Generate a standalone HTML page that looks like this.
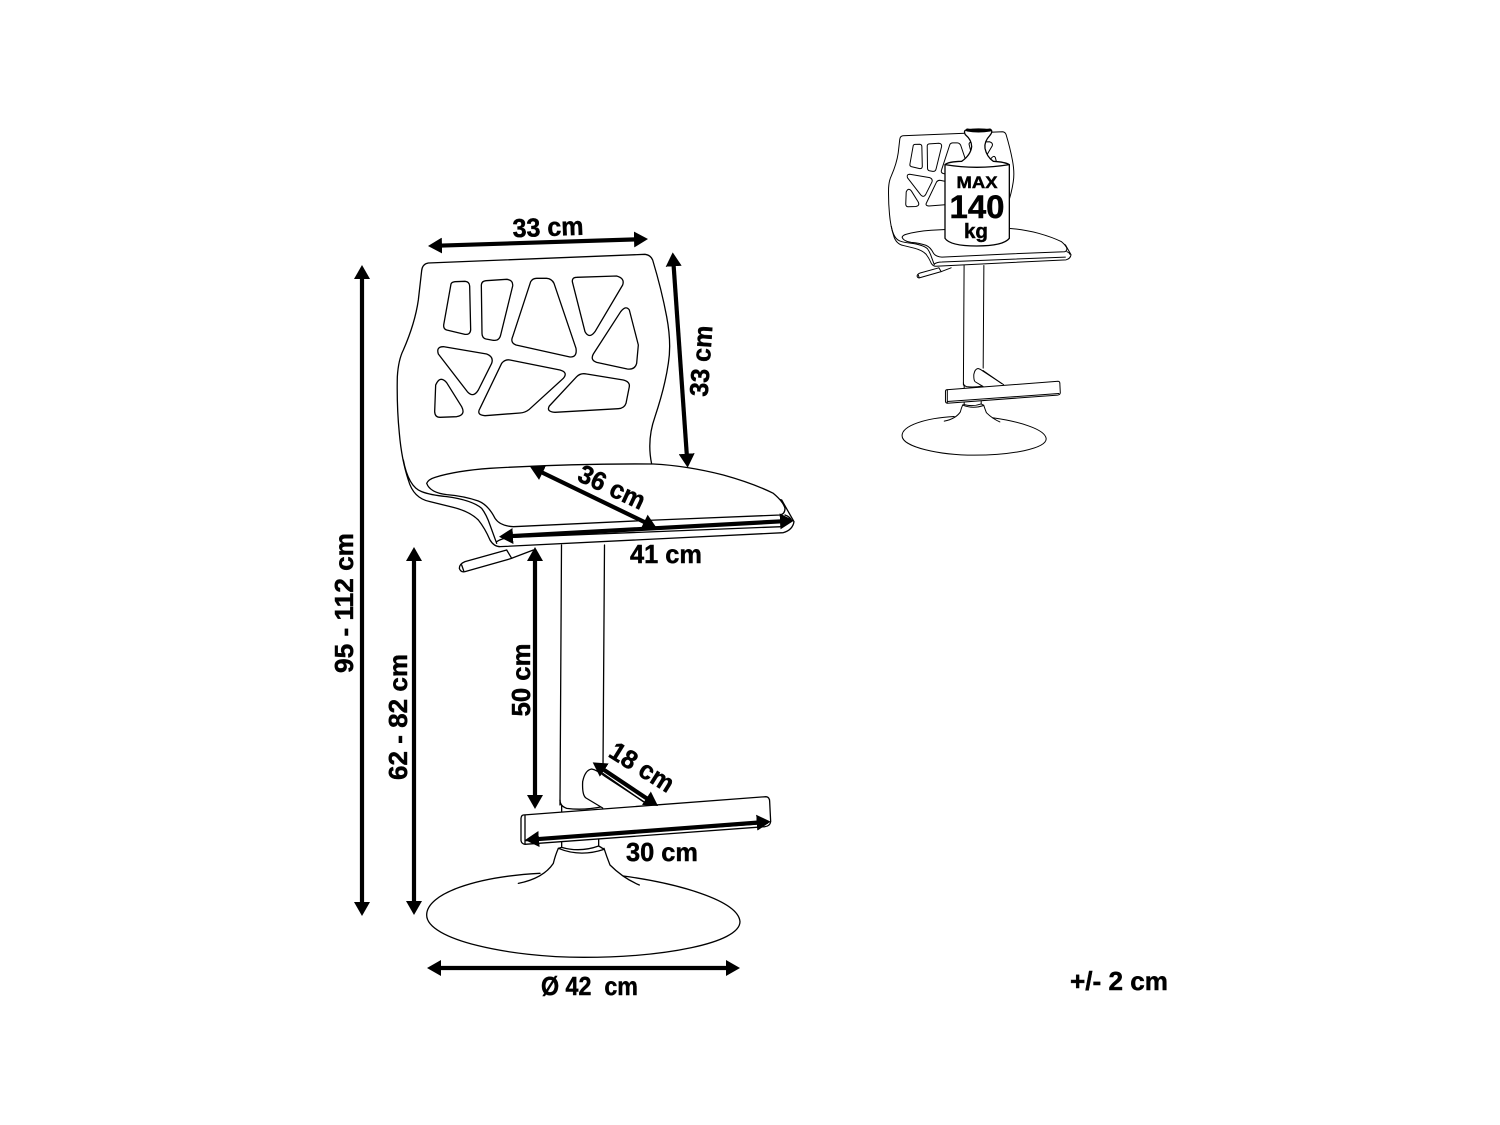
<!DOCTYPE html>
<html><head><meta charset="utf-8"><style>
html,body{margin:0;padding:0;background:#fff}
svg{display:block}
.s *{vector-effect:non-scaling-stroke}
.s path,.s line{stroke:#000;stroke-width:var(--sw,1.3);fill:none;stroke-linejoin:round;stroke-linecap:round}
.s path.w{fill:#fff}
.a line{stroke:#000;stroke-width:4.2}
text{font-family:"Liberation Sans",sans-serif;font-weight:700;fill:#000;stroke:#000;stroke-width:.45;text-anchor:middle}
.d{font-size:26px}
</style></head><body>
<svg width="1500" height="1125" viewBox="0 0 1500 1125" xmlns="http://www.w3.org/2000/svg">
<defs>
<marker id="h" markerUnits="userSpaceOnUse" markerWidth="16" markerHeight="16" refX="4" refY="8" orient="auto-start-reverse"><path d="M0 0L14 8L0 16Z" fill="#000"/></marker>
<g id="stool" class="s">
 <!-- pole -->
 <line x1="561.5" y1="545" x2="560" y2="805"/>
 <line x1="604.5" y1="545" x2="603" y2="768"/>
 <g transform="translate(390,200) scale(.33333)">
  <!-- lever -->
  <path class="w" d="M350 1050L225 1085Q208 1092 208 1105Q212 1118 225 1115L362 1076L430 1050"/>
  <path d="M350 1050L365 1075M215 1095L222 1115"/>
  <!-- back + seat shell -->
  <path class="w" d="M95 212Q97 192 115 189L765 163Q782 165 788 180Q815 270 830 350Q845 430 835 490Q825 560 795 650Q770 720 785 792L1175 900Q1195 935 1212 965Q1208 990 1180 998L330 1040Q312 1040 300 1020Q285 985 265 960Q240 935 190 922L120 905Q70 895 55 840Q35 780 28 700Q20 620 22 530Q25 480 40 450Q75 370 85 300Z"/>
  <path d="M40 780Q55 860 95 875Q120 885 170 890Q245 900 275 925Q290 945 300 975L320 1030"/>
  <path d="M1185 945Q1200 950 1205 962M320 1025Q340 1012 370 1012L1175 980"/>
  <!-- cushion -->
  <path class="w" d="M110 850Q115 838 135 832Q200 812 300 805Q550 790 790 792Q890 797 1000 825Q1090 850 1150 880Q1180 905 1185 925Q1185 942 1170 945L800 960L370 980Q330 978 315 955Q295 915 265 903Q220 888 170 884Q120 878 110 850Z"/>
  <!-- holes -->
  <path d="M183 252Q185 246 195 245L225 244Q238 245 239 258L242 390Q240 405 225 403L170 390Q160 387 161 375Z"/>
  <path d="M274 255Q275 243 288 242L350 238Q370 240 368 258L332 405Q328 423 310 421L288 417Q276 414 276 400Z"/>
  <path d="M422 245Q428 235 440 235L470 235Q485 236 492 250L558 445Q562 472 540 471L378 435Q360 428 368 410Z"/>
  <path d="M547 245Q546 232 560 232L680 228Q705 235 698 255L615 395Q598 418 585 395Z"/>
  <path d="M692 335Q708 315 718 330L745 435L740 490Q735 510 712 507L620 487Q600 480 610 462Z"/>
  <path d="M145 462Q138 440 160 440L290 462Q312 470 305 490L265 570Q250 595 232 575Z"/>
  <path d="M335 490Q345 477 360 480L510 510Q535 517 520 535L418 628Q405 638 390 639L285 647Q258 645 270 625Z"/>
  <path d="M560 530Q572 518 590 522L700 540Q720 545 718 560L708 610Q703 625 685 626L495 637Q468 635 478 618Z"/>
  <path d="M137 555Q150 525 170 548L215 620Q228 645 200 650L150 652Q135 652 134 635Z"/>
 </g>
 <g transform="translate(410,720) scale(.33333)">
  <!-- pole foot -->
  <path d="M450 240Q450 258 470 265Q520 272 578 260M455 255V275"/>
  <!-- wedge -->
  <path class="w" d="M578 264L528 234Q516 226 518 185Q525 150 545 147Q560 150 582 167L712 252"/>
  <path d="M578 160L700 245"/>
  <!-- lower collar and base -->
  <path d="M390 460C200 470 50 520 50 585C50 660 300 712 520 712C760 712 990 670 990 605C985 540 800 490 640 468"/>
  <path d="M445 385Q436 405 430 430Q400 475 325 490M582 385Q590 410 600 435Q640 475 688 495"/>
  <path d="M455 362V385M566 358V382"/>
  <path class="w" d="M445 385Q510 412 582 388Q570 380 566 378Q510 398 455 382Z"/>
  <!-- foot bar -->
  <path class="w" d="M340 285L1068 230Q1079 231 1079 245L1082 305Q1080 318 1065 320L345 373Q335 372 333 362L333 295Q334 286 340 285Z"/>
  <path d="M345 285V372M345 362L1072 310"/>
 </g>
</g>
</defs>
<rect width="1500" height="1125" fill="#fff"/>
<use href="#stool"/>
<g class="a">
 <line x1="438" y1="245.7" x2="638" y2="239.3" marker-start="url(#h)" marker-end="url(#h)"/>
 <line x1="673.4" y1="262.3" x2="687" y2="457.7" marker-start="url(#h)" marker-end="url(#h)"/>
 <line x1="539" y1="471" x2="647.7" y2="523.6" marker-start="url(#h)" marker-end="url(#h)"/>
 <line x1="509" y1="536.2" x2="784" y2="521.2" marker-start="url(#h)" marker-end="url(#h)"/>
 <line x1="601" y1="767.9" x2="649.7" y2="800.4" marker-start="url(#h)" marker-end="url(#h)"/>
 <line x1="535" y1="839.3" x2="760.7" y2="822.4" marker-start="url(#h)" marker-end="url(#h)"/>
 <line x1="362" y1="275" x2="362" y2="906" marker-start="url(#h)" marker-end="url(#h)"/>
 <line x1="414" y1="557" x2="414" y2="905" marker-start="url(#h)" marker-end="url(#h)"/>
 <line x1="535" y1="557" x2="535" y2="799" marker-start="url(#h)" marker-end="url(#h)"/>
 <line x1="437" y1="968" x2="730" y2="968" marker-start="url(#h)" marker-end="url(#h)"/>
</g>
<g class="d">
 <text transform="translate(548,227) rotate(-2)" y="9" textLength="71" lengthAdjust="spacingAndGlyphs">33 cm</text>
 <text transform="translate(701,361) rotate(-86)" y="9" textLength="71" lengthAdjust="spacingAndGlyphs">33 cm</text>
 <text transform="translate(612,487) rotate(25)" y="9" textLength="71" lengthAdjust="spacingAndGlyphs">36 cm</text>
 <text transform="translate(666,554)" y="9" textLength="72" lengthAdjust="spacingAndGlyphs">41 cm</text>
 <text transform="translate(521,680) rotate(-90)" y="9" textLength="73" lengthAdjust="spacingAndGlyphs">50 cm</text>
 <text transform="translate(398,717) rotate(-90)" y="9" textLength="126" lengthAdjust="spacingAndGlyphs">62 - 82 cm</text>
 <text transform="translate(344,603) rotate(-90)" y="9" textLength="140" lengthAdjust="spacingAndGlyphs">95 - 112 cm</text>
 <text transform="translate(642,767) rotate(32)" y="9" textLength="71" lengthAdjust="spacingAndGlyphs">18 cm</text>
 <text transform="translate(662,852)" y="9" textLength="72" lengthAdjust="spacingAndGlyphs">30 cm</text>
 <text x="589.5" y="995" textLength="97" lengthAdjust="spacingAndGlyphs" xml:space="preserve">Ø 42  cm</text>
 <text x="1119" y="990" textLength="98" lengthAdjust="spacingAndGlyphs">+/- 2 cm</text>
</g>
<!-- small stool with weight -->
<use href="#stool" transform="translate(705.8,14.8) scale(.46)" style="--sw:1"/>
<g class="s" transform="translate(880,120) scale(.33333)">
 <path class="w" d="M258 30Q295 24 334 30Q338 36 330 46Q312 65 315 85Q320 110 340 124Q375 126 388 134L388 355Q370 378 290 378Q210 378 195 355L195 134Q205 125 245 124Q272 105 275 80Q275 60 256 44Q250 33 258 30Z"/>
 <path d="M195 134Q290 150 388 134"/>
 <path d="M262 30Q295 36 330 30" style="stroke-width:3"/>
</g>
<text x="977" y="188" font-size="17" textLength="41" lengthAdjust="spacingAndGlyphs">MAX</text>
<text x="977" y="218" font-size="32" textLength="55" lengthAdjust="spacingAndGlyphs">140</text>
<text x="976" y="238" font-size="20" textLength="24" lengthAdjust="spacingAndGlyphs">kg</text>
</svg>
</body></html>
